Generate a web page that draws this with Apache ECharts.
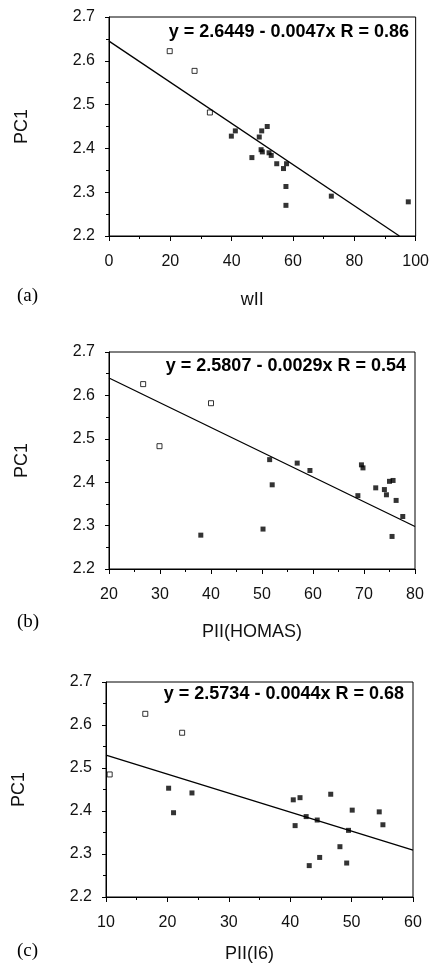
<!DOCTYPE html>
<html lang="en" style="height: 100%">
<head>
  <meta charset="utf-8">
</head>
<body style="height: 100%; margin: 0; background: #fff">
  <div id="container" style="width: 432px; height: 964px"></div>
  <script src="https://cdn.jsdelivr.net/npm/echarts@6/dist/echarts.min.js"></script>
  <script>
    // panel (a): PC1 vs wII
    var aOpenX = [19.8, 27.9, 32.9];
    var aOpenY = [2.622, 2.577, 2.482];
    var aFillX = [39.9, 41.2, 46.6, 49.0, 49.8, 49.6, 50.0, 51.6, 52.2, 52.9, 54.7, 56.9, 57.9, 57.7, 57.7, 72.5, 97.6];
    var aFillY = [2.428, 2.440, 2.379, 2.426, 2.440, 2.397, 2.392, 2.450, 2.390, 2.384, 2.365, 2.354, 2.365, 2.313, 2.270, 2.291, 2.278];
    var aFitX = [0, 94.7];
    var aFitY = [2.6449, 2.2];

    // panel (b): PC1 vs PII(HOMAS)
    var bOpenX = [26.7, 40.0, 29.9];
    var bOpenY = [2.626, 2.582, 2.483];
    var bFillX = [38.0, 50.2, 51.5, 52.0, 56.9, 59.4, 68.8, 69.5, 69.8, 72.3, 74.0, 74.4, 75.0, 75.7, 75.5, 76.3, 77.6];
    var bFillY = [2.278, 2.292, 2.452, 2.394, 2.444, 2.427, 2.369, 2.440, 2.433, 2.387, 2.383, 2.371, 2.402, 2.404, 2.275, 2.358, 2.321];
    var bFitX = [20, 80];
    var bFitY = [2.640, 2.298];

    // panel (c): PC1 vs PII(I6)
    var cOpenX = [10.6, 16.4, 22.4];
    var cOpenY = [2.485, 2.626, 2.582];
    var cFillX = [20.2, 21.0, 24.0, 40.5, 41.6, 40.8, 42.6, 43.1, 44.4, 44.8, 46.6, 48.1, 49.2, 49.5, 50.1, 54.5, 55.1];
    var cFillY = [2.453, 2.396, 2.442, 2.426, 2.431, 2.366, 2.387, 2.273, 2.379, 2.292, 2.439, 2.317, 2.279, 2.355, 2.402, 2.398, 2.368];
    var cFitX = [10, 60];
    var cFitY = [2.530, 2.309];

    var yTicks = { min: 2.2, max: 2.7, interval: 0.1 };
    var equations = [
      'y = 2.6449 - 0.0047x R = 0.86',
      'y = 2.5807 - 0.0029x R = 0.54',
      'y = 2.5734 - 0.0044x R = 0.68'
    ];

    function pairs(xs, ys) {
      return xs.map(function (x, i) { return [x, ys[i]]; });
    }

    var panels = [
      { grid: { left: 109, top: 17, width: 309, height: 219 }, x: { min: 0, max: 100, interval: 20, name: 'wII', gap: 55 },
        open: pairs(aOpenX, aOpenY), fill: pairs(aFillX, aFillY), fit: pairs(aFitX, aFitY), tag: '(a)', tagY: 298, eqY: 33 },
      { grid: { left: 109, top: 352, width: 306, height: 217 }, x: { min: 20, max: 80, interval: 10, name: 'PII(HOMAS)', gap: 54 },
        open: pairs(bOpenX, bOpenY), fill: pairs(bFillX, bFillY), fit: pairs(bFitX, bFitY), tag: '(b)', tagY: 624, eqY: 367 },
      { grid: { left: 106, top: 682, width: 307, height: 217 }, x: { min: 10, max: 60, interval: 10, name: 'PII(I6)', gap: 48 },
        open: pairs(cOpenX, cOpenY), fill: pairs(cFillX, cFillY), fit: pairs(cFitX, cFitY), tag: '(c)', tagY: 953, eqY: 695 }
    ];

    var axisStyle = { lineStyle: { color: '#000', width: 1 } };
    var tickStyle = { color: '#000' };

    var option = {
      backgroundColor: '#fff',
      animation: false,
      grid: [], xAxis: [], yAxis: [], series: [], graphic: []
    };

    panels.forEach(function (p, i) {
      option.grid.push(Object.assign({ show: true, borderColor: '#000', borderWidth: 1 }, p.grid));
      option.xAxis.push({
        type: 'value', gridIndex: i, min: p.x.min, max: p.x.max, interval: p.x.interval,
        axisLine: axisStyle, axisTick: { length: 5, lineStyle: tickStyle },
        minorTick: { show: true, splitNumber: 2, length: 3, lineStyle: tickStyle },
        splitLine: { show: false },
        axisLabel: { margin: 18, color: '#111', fontFamily: 'Liberation Sans', fontSize: 16 },
        name: p.x.name, nameLocation: 'middle', nameGap: p.x.gap,
        nameTextStyle: { color: '#111', fontFamily: 'Liberation Sans', fontSize: 18, padding: [0, 20, 0, 0] }
      });
      option.yAxis.push({
        type: 'value', gridIndex: i, min: yTicks.min, max: yTicks.max, interval: yTicks.interval,
        axisLine: axisStyle, axisTick: { length: 4, lineStyle: tickStyle },
        minorTick: { show: true, splitNumber: 2, length: 3, lineStyle: tickStyle },
        splitLine: { show: false },
        axisLabel: { margin: 14, color: '#111', fontFamily: 'Liberation Sans', fontSize: 16,
          formatter: function (v) { return v.toFixed(1); } },
        name: 'PC1', nameLocation: 'middle', nameGap: 78, nameRotate: 90,
        nameTextStyle: { color: '#111', fontFamily: 'Liberation Sans', fontSize: 18 }
      });
      option.series.push({
        type: 'line', xAxisIndex: i, yAxisIndex: i, data: p.fit, symbol: 'none',
        lineStyle: { color: '#000', width: 1.3 }, silent: true
      });
      option.series.push({
        type: 'scatter', xAxisIndex: i, yAxisIndex: i, data: p.open, symbol: 'rect', symbolSize: 5,
        itemStyle: { color: '#fff', borderColor: '#000', borderWidth: 1 }
      });
      option.series.push({
        type: 'scatter', xAxisIndex: i, yAxisIndex: i, data: p.fill, symbol: 'rect', symbolSize: 5,
        itemStyle: { color: '#000' }
      });
      option.graphic.push({
        type: 'text', right: 432 - (p.grid.left + p.grid.width) + 9, top: p.eqY - 10,
        style: { text: equations[i], fill: '#000', font: 'bold 18px "Liberation Sans"' }
      });
      option.graphic.push({
        type: 'text', left: 17, top: p.tagY - 11,
        style: { text: p.tag, fill: '#000', font: '19px "Liberation Serif"' }
      });
    });

    var myChart = echarts.init(document.getElementById('container'), null, { renderer: 'canvas' });
    myChart.setOption(option);
  </script>
</body>
</html>
